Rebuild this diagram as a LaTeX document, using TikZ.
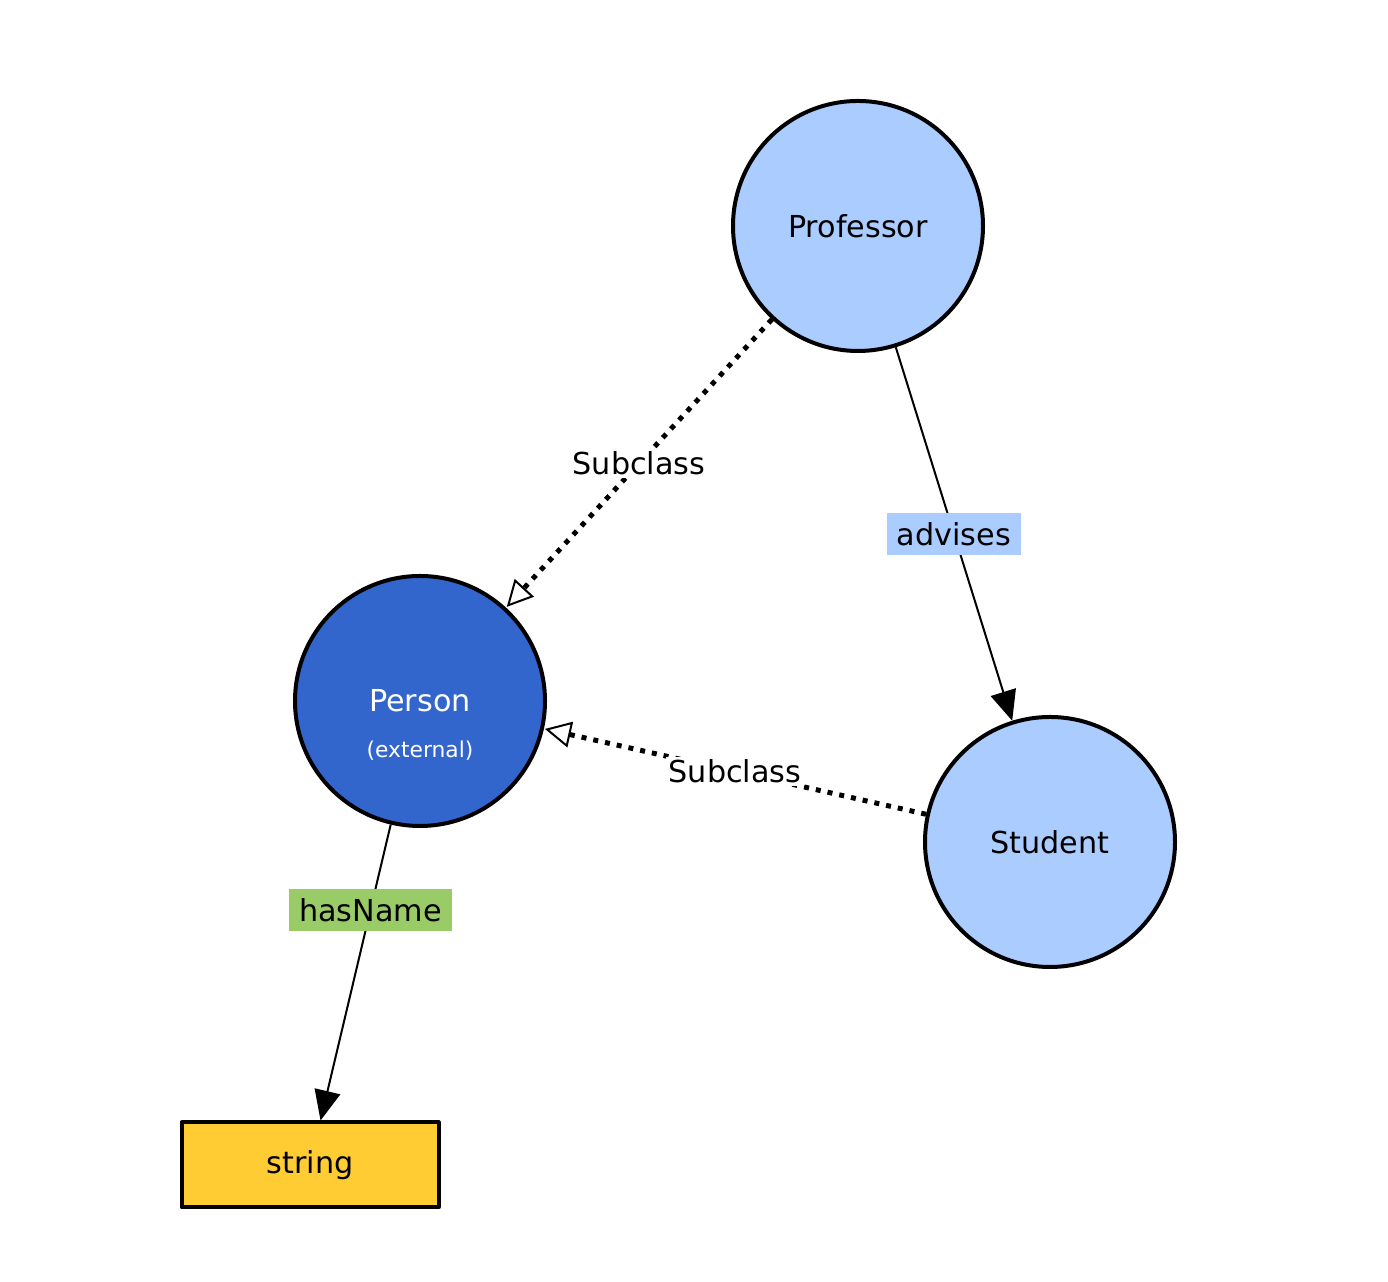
\documentclass[tikz,border=0pt]{standalone}
\usepackage{fontspec}
\setmainfont{DejaVu Sans}
\usetikzlibrary{arrows.meta}
\definecolor{classlight}{RGB}{170,204,255}
\definecolor{classdark}{RGB}{51,102,204}
\definecolor{datatype}{RGB}{255,204,51}
\definecolor{dataprop}{RGB}{153,204,102}
\begin{document}
\begin{tikzpicture}[>=Triangle, font=\fontsize{8.6}{10}\selectfont, line join=round,
		class/.style={circle, draw, line width=0.04cm, minimum size=2.5cm, inner sep=0pt, fill=classlight},
		dtype/.style={rectangle, draw, line width=0.04cm, minimum width=2.57cm, minimum height=0.85cm, fill=datatype},
		objprop/.style={draw, line width=0.02cm, -{Triangle[length=0.3cm, width=0.26cm]}},
		subclass/.style={draw, line width=0.05cm, dash pattern=on 0.05cm off 0.07cm, -{Triangle[open, length=0.26cm, width=0.26cm, line width=0.02cm, sep=0.01cm]}},
		sublabel/.style={fill=white, inner sep=0.03cm},
		proplabel/.style={inner xsep=0.1cm, inner ysep=0pt, minimum height=0.42cm}]
	\useasboundingbox (0,0) rectangle (13.88,12.82);
	% classes
	\node[class] (professor) at (8.58,10.56) {Professor};
	\node[class, fill=classdark, text=white] (person) at (4.20,5.81) {Person};
	\node[text=white, font=\fontsize{6.2}{8}\selectfont] (personext) at (4.20,5.31) {(external)};
	\node[class] (student) at (10.50,4.40) {Student};
	\node[dtype] (string) at (3.10,1.17) {string};
	% subclass edges
	\draw[subclass] (professor) -- (person) node[sublabel, midway] (sub1) {Subclass};
	\draw[subclass] (student) -- (person) node[sublabel, midway] (sub2) {Subclass};
	% properties
	\draw[objprop] (professor) -- (student) node[proplabel, fill=classlight, midway] (advises) {advises};
	\draw[objprop] (person) -- (string) node[proplabel, fill=dataprop, pos=0.29] (hasname) {hasName};
\end{tikzpicture}
\end{document}
